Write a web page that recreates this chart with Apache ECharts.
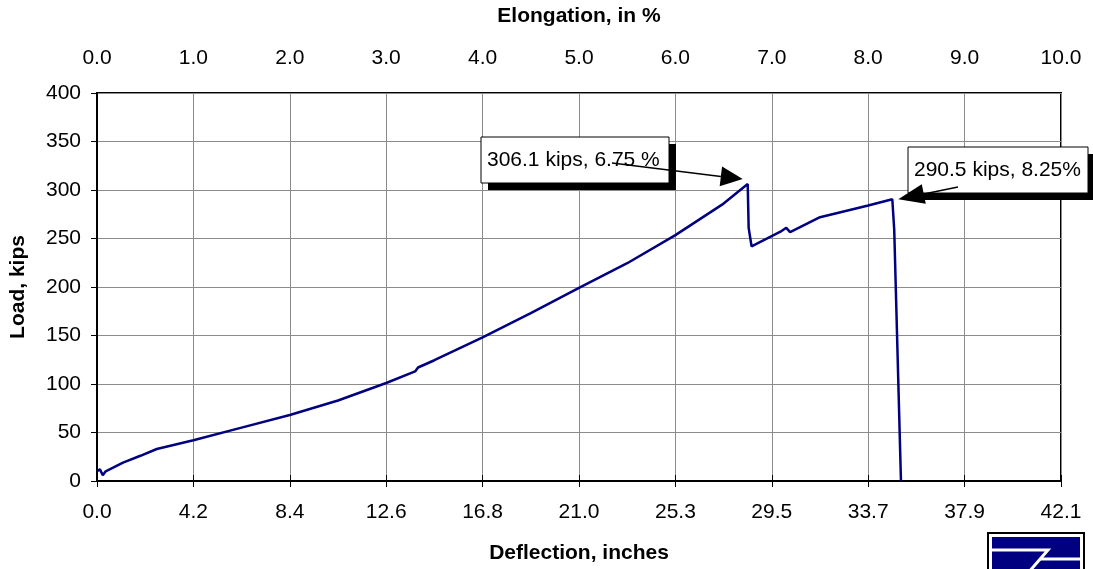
<!DOCTYPE html>
<html>
<head>
<meta charset="utf-8">
<script src="https://cdn.jsdelivr.net/npm/echarts@6.0.0/dist/echarts.min.js"></script>
<style>
  html, body { margin: 0; padding: 0; background: #fff; }
  #chart { width: 1093px; height: 569px; }
</style>
</head>
<body>
<div id="chart"></div>
<script>
// Load vs elongation
const elongation = [0.00, 0.03, 0.06, 0.09, 0.27, 0.45, 0.62, 1.00, 1.50, 2.00, 2.50, 3.00, 3.30, 3.33, 3.50, 4.00, 4.50, 5.00, 5.50, 6.00, 6.50, 6.75, 6.76, 6.79, 7.09, 7.15, 7.19, 7.50, 8.00, 8.25, 8.27, 8.34]
const load       = [10, 12, 6, 10, 19, 26, 33, 42, 55, 68, 83, 101, 113, 117, 124.5, 148, 173, 199, 224.5, 253.5, 286, 306.1, 261, 242, 257, 261, 256.5, 272, 284, 290.5, 259, 0]

const elongTicks = ['0.0', '1.0', '2.0', '3.0', '4.0', '5.0', '6.0', '7.0', '8.0', '9.0', '10.0']
const deflTicks  = ['0.0', '4.2', '8.4', '12.6', '16.8', '21.0', '25.3', '29.5', '33.7', '37.9', '42.1']

const peaks = [
  { x: 6.75, y: 306.1, text: '306.1 kips, 6.75 %' },
  { x: 8.25, y: 290.5, text: '290.5 kips, 8.25%' },
]

const FONT = 'Arial, "Liberation Sans", sans-serif'
const black = '#000'

const chart = echarts.init(document.getElementById('chart'), null, { renderer: 'canvas' })

const label = { color: black, fontSize: 21, fontFamily: FONT }
const nameStyle = { color: black, fontSize: 21, fontWeight: 'bold', fontFamily: FONT }

chart.setOption({
  animation: false,
  grid: { left: 97, right: 32, top: 93, bottom: 88, show: true, borderColor: black, borderWidth: 2 },
  xAxis: [
    {
      type: 'value', position: 'top', min: 0, max: 10, interval: 1,
      name: 'Elongation, in %', nameLocation: 'middle', nameGap: 66, nameTextStyle: nameStyle,
      axisLine: { show: true, lineStyle: { color: black, width: 2 } },
      axisTick: { show: true, length: 6, lineStyle: { color: black } },
      axisLabel: { ...label, margin: 24, formatter: (v, i) => elongTicks[Math.round(v)] },
      splitLine: { show: true, lineStyle: { color: '#8c8c8c', width: 1 } },
    },
    {
      type: 'value', position: 'bottom', min: 0, max: 10, interval: 1,
      name: 'Deflection, inches', nameLocation: 'middle', nameGap: 62, nameTextStyle: nameStyle,
      axisLine: { show: true, lineStyle: { color: black, width: 2 } },
      axisTick: { show: true, length: 6, lineStyle: { color: black } },
      axisLabel: { ...label, margin: 21, formatter: v => deflTicks[Math.round(v)] },
      splitLine: { show: false },
    },
  ],
  yAxis: {
    type: 'value', min: 0, max: 400, interval: 50,
    name: 'Load, kips', nameLocation: 'middle', nameGap: 68, nameTextStyle: nameStyle,
    axisLine: { show: true, lineStyle: { color: black, width: 2 } },
    axisTick: { show: true, length: 6, lineStyle: { color: black } },
    axisLabel: { ...label, margin: 16 },
    splitLine: { show: true, lineStyle: { color: '#8c8c8c', width: 1 } },
  },
  series: [{
    type: 'line',
    xAxisIndex: 0,
    data: elongation.map((x, i) => [x, load[i]]),
    showSymbol: false,
    lineStyle: { color: '#000080', width: 2.5 },
  }],
})

// arrow: shaft + filled head, tip at `to`
function arrow(from, to, len, half) {
  const dx = to[0] - from[0], dy = to[1] - from[1]
  const d = Math.hypot(dx, dy), ux = dx / d, uy = dy / d
  const bx = to[0] - ux * len, by = to[1] - uy * len
  return [
    { type: 'line', z: 100, shape: { x1: from[0], y1: from[1], x2: bx, y2: by }, style: { stroke: black, lineWidth: 1.5 } },
    { type: 'polygon', z: 100, shape: { points: [to, [bx - uy * half, by + ux * half], [bx + uy * half, by - ux * half]] }, style: { fill: black } },
  ]
}

function callout(box, text) {
  const [x, y, w, h] = box
  return [
    { type: 'rect', z: 98, shape: { x: x + 7, y: y + 7, width: w, height: h }, style: { fill: black } },
    { type: 'rect', z: 99, shape: { x, y, width: w, height: h }, style: { fill: '#fff', stroke: black, lineWidth: 1 } },
    { type: 'text', z: 101, x: x + 6, y: y + h / 2, style: { text, fill: black, font: `21px ${FONT}`, verticalAlign: 'middle' } },
  ]
}

function logo(x, y) {
  return [
    { type: 'rect', shape: { x, y, width: 96, height: 60 }, style: { fill: '#fff', stroke: black, lineWidth: 2 } },
    { type: 'rect', shape: { x: x + 4, y: y + 4, width: 88, height: 52 }, style: { fill: '#000080' } },
    { type: 'polyline', shape: { points: [[x + 4, y + 17], [x + 60, y + 17], [x + 40, y + 40], [x + 25, y + 60]] }, style: { stroke: '#fff', lineWidth: 3, fill: null } },
    { type: 'line', shape: { x1: x + 52, y1: y + 26, x2: x + 92, y2: y + 26 }, style: { stroke: '#fff', lineWidth: 3 } },
  ]
}

function drawAnnotations() {
  const p1 = chart.convertToPixel({ xAxisIndex: 0, yAxisIndex: 0 }, [peaks[0].x, peaks[0].y])
  const p2 = chart.convertToPixel({ xAxisIndex: 0, yAxisIndex: 0 }, [peaks[1].x, peaks[1].y])
  chart.setOption({
    graphic: [
      ...callout([481, 137, 188, 46], peaks[0].text),
      ...arrow([612, 163], [p1[0] - 5, p1[1] - 5], 22, 10),
      ...callout([908, 147, 180, 46], peaks[1].text),
      ...arrow([958, 187], [p2[0] + 6, p2[1]], 26, 10),
      ...logo(988, 533),
    ],
  })
}
drawAnnotations()
</script>
</body>
</html>
